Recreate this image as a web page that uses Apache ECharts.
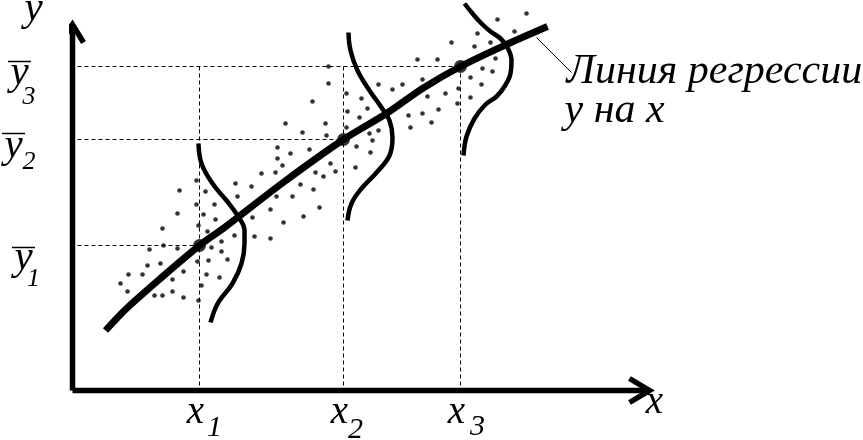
<!DOCTYPE html>
<html><head><meta charset="utf-8">
<script src="https://cdn.jsdelivr.net/npm/echarts@6/dist/echarts.min.js"></script>
<style>html,body{margin:0;padding:0;background:#fff}#c{width:863px;height:440px}</style>
</head><body><div id="c"></div>
<script>
// Conditional means (x_i, ȳ_i)
const xMeans = [127, 271, 388];
const yMeans = [145, 251, 324];
const xTickSubs = ['1', '2', '3'];
const yTickSubs = ['1', '2', '3'];
const axisEnd = { x: 577, y: 366 };
const guideStart = 5;

// Regression line y on x
const regressionLine = [[33,60],[54,82],[89,113],[127,145],[152,163],[212,209],[271,251],[314,277],[350,302],[388,324],[434,346],[475,364]];

// Conditional distribution curves
const density1 = [[126,247],[129,227],[140,207],[154,190],[165,175],[172,160],[172,147],[169,127],[160,107],[147,90],[142,80],[138,68]];
const density2 = [[276,358],[278,340],[285,320],[297,300],[309,283],[317,270],[320,253],[317,235],[305,219],[289,202],[279,187],[275,170]];
const density3 = [[392,387],[400,377],[409,367],[418,359],[428,352],[435,343],[439,330],[438,317],[432,304],[424,294],[413,286],[402,272],[394,254],[391,235]];

// Observations
const scatterPoints = [
[124,210],[107,200],[133,199],[124,186],[142,186],[105,177],[131,176],[143,171],[126,165],[90,162],
[135,159],[149,149],[91,145],[105,142],[77,141],[139,143],[149,139],[125,129],[136,130],[88,127],
[75,125],[111,119],[56,116],[70,116],[134,116],[147,113],[100,111],[48,107],[129,105],[55,99],
[100,99],[82,95],[90,95],[111,93],[126,90],
[163,207],[179,204],[165,194],[189,217],[203,218],[205,232],[205,243],[198,181],[180,173],[162,155],
[182,154],[198,152],[155,131],[213,267],[253,267],[230,258],[254,255],[237,241],[218,237],[210,225],
[258,227],[243,218],[263,219],[251,214],[228,206],[241,201],[204,194],[220,194],[247,183],[231,174],
[211,168],[256,324],[256,307],[240,289],
[379,348],[345,331],[365,331],[350,311],[306,306],[330,306],[320,301],[386,302],[274,297],
[373,297],[355,294],[289,292],[385,287],[295,282],[275,279],[366,281],[350,277],[336,275],[287,273],
[359,268],[274,263],[338,263],[306,260],[297,257],[300,250],[284,244],[298,238],[283,223],
[454,377],[425,371],[442,359],[405,357],[402,344],[418,348],[423,332],[410,322],[420,319],[398,313],
[409,306],[398,293]
];
const leader = [[464,353],[499,318]];

const chart = echarts.init(document.getElementById('c'), null, { renderer: 'canvas' });
const black = '#000';
const solid = (w) => ({ color: black, width: w, join: 'miter', cap: 'butt' });
const lineSeries = (data, w, extra) => Object.assign({
  type: 'line', data, symbol: 'none', clip: false, silent: true, animation: false,
  lineStyle: solid(w)
}, extra || {});
const dashed = { color: black, width: 1, type: [4, 3] };

const guides = [];
xMeans.forEach((x, i) => {
  guides.push(lineSeries([[guideStart, yMeans[i]], [x, yMeans[i]]], 1, { lineStyle: dashed }));
  guides.push(lineSeries([[x, yMeans[2]], [x, 0]], 1, { lineStyle: dashed }));
});

chart.setOption({
  animation: false,
  backgroundColor: '#fff',
  grid: { left: 72.5, right: 0.5, top: 0.5, bottom: 49.5 },
  xAxis: { type: 'value', min: 0, max: 790, show: false },
  yAxis: { type: 'value', min: 0, max: 390, show: false },
  series: [
    ...guides,
    lineSeries([[0, 0], [0, axisEnd.y]], 5.5),
    lineSeries([[-12, axisEnd.y - 18], [0, axisEnd.y], [11, axisEnd.y - 18]], 5.5),
    lineSeries([[0, 0], [axisEnd.x, 0]], 5.5),
    lineSeries([[axisEnd.x - 20, 12], [axisEnd.x, 0], [axisEnd.x - 20, -12]], 5.5),
    lineSeries(leader, 1),
    { type: 'scatter', data: scatterPoints, symbol: 'circle', symbolSize: 4.6, itemStyle: { color: black }, silent: true, clip: false },
    lineSeries(density1, 4.5, { smooth: 0.4 }),
    lineSeries(density2, 4.5, { smooth: 0.4 }),
    lineSeries(density3, 4.5, { smooth: 0.4 }),
    lineSeries(regressionLine, 7, { smooth: 0.3, lineStyle: { color: black, width: 7, cap: 'butt', join: 'round' } }),
    { type: 'scatter', data: xMeans.map((x, i) => [x, yMeans[i]]), symbol: 'circle', symbolSize: 13, itemStyle: { color: black }, silent: true, z: 5 }
  ]
});

// Text labels
const FF = '"Liberation Serif", "Times New Roman", serif';
function txt(s, x, baseline, size, align) {
  return { type: 'text', x: x, y: baseline - 0.3375 * size, silent: true,
    style: { text: s, font: 'italic ' + size + 'px ' + FF, fill: black, align: align || 'center', verticalAlign: 'middle' } };
}
function over(x1, x2, y) {
  return { type: 'line', silent: true, shape: { x1, y1: y, x2, y2: y }, style: { stroke: black, lineWidth: 1.5 } };
}
const P = (x, y) => chart.convertToPixel({ gridIndex: 0 }, [x, y]);
const els = [];
// y-axis name and x-axis name
const yTip = P(0, axisEnd.y), xTip = P(axisEnd.x, 0);
els.push(txt('y', yTip[0] - 39, yTip[1] - 1, 41));
els.push(txt('x', xTip[0] + 5, xTip[1] + 25, 39));
// x_i labels
const xSubOff = [[19, 13], [16, 15], [21, 12]];
xMeans.forEach((x, i) => {
  const p = P(x, 0);
  els.push(txt('x', p[0] - 4, p[1] + 35, 39));
  els.push(txt(xTickSubs[i], p[0] - 4 + xSubOff[i][0], p[1] + 35 + xSubOff[i][1], 30));
});
// ȳ_i labels
const yLab = [ // [glyph centre x, baseline offset, sub centre x, sub baseline offset, overline y offset]
  [23.5, 27, 33.5, 42, 2],
  [13.5, 21, 29, 31, -6],
  [19.5, 21, 29, 39, -5]
];
yMeans.forEach((y, i) => {
  const p = P(0, y);
  const L = yLab[i];
  els.push(txt('y', L[0], p[1] + L[1], 41));
  els.push(txt(yTickSubs[i], L[2], p[1] + L[3], 26));
  els.push(over(L[0] - 11.5, L[0] + 11.5, p[1] + L[4]));
});
// annotation
const lp = P(leader[1][0], leader[1][1]);
els.push(txt('Линия регрессии', lp[0] - 5, lp[1] + 14, 42, 'left'));
els.push(txt('у на х', lp[0] - 7, lp[1] + 53, 42, 'left'));
chart.setOption({ graphic: { elements: els } });
</script>
</body></html>
